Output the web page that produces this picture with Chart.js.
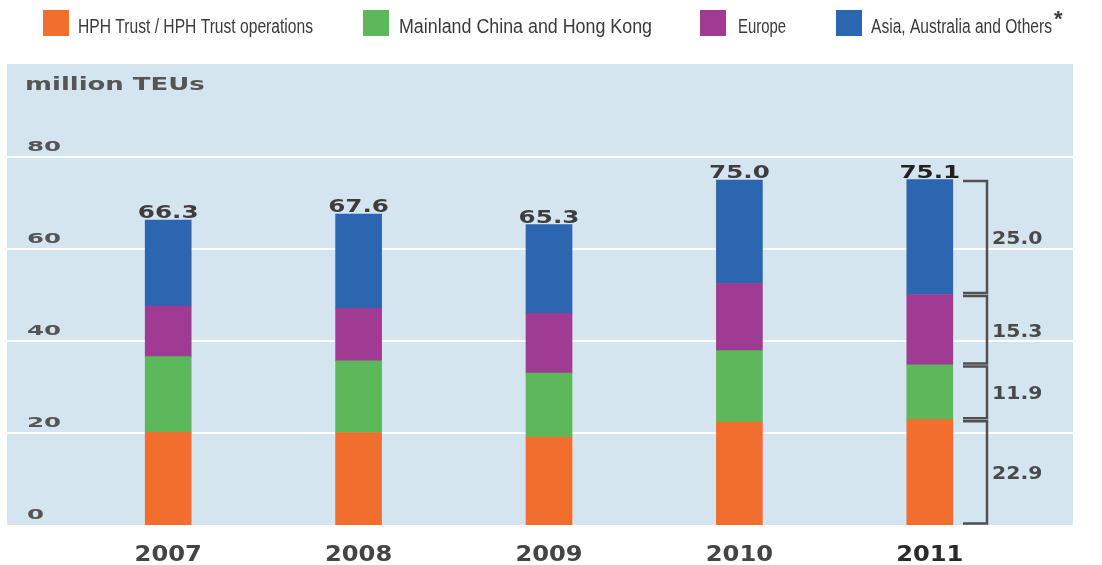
<!DOCTYPE html>
<html>
<head>
<meta charset="utf-8">
<script src="https://cdn.jsdelivr.net/npm/chart.js@4"></script>
<style>
  html, body { margin: 0; padding: 0; background: #fff; }
  canvas { display: block; }
</style>
</head>
<body>
<canvas id="teuChart" width="1102" height="565"></canvas>
<script>
const years = ['2007', '2008', '2009', '2010', '2011'];
const seriesNames = ['HPH Trust / HPH Trust operations', 'Mainland China and Hong Kong', 'Europe', 'Asia, Australia and Others'];
const hphTrust = [20.2, 20.1, 19.1, 22.4, 22.9];
const mainland = [16.4, 15.6, 13.9, 15.5, 11.9];
const europe = [11.0, 11.4, 13.0, 14.6, 15.3];
const asiaOthers = [18.7, 20.5, 19.3, 22.5, 25.0];
const yTicks = [0, 20, 40, 60, 80];
const unitLabel = 'million TEUs';

const seriesColors = ['#f26e2f', '#5cb85a', '#9f3b93', '#2c65b0'];
const seriesValues = [hphTrust, mainland, europe, asiaOthers];

// text helper: draws with an optional horizontal stretch,
// or squeezes/stretches to a given width when o.width is set
function drawText(ctx, text, x, y, o) {
  ctx.save();
  ctx.font = o.font;
  ctx.fillStyle = o.color || '#444';
  ctx.textAlign = o.align || 'left';
  ctx.textBaseline = o.baseline || 'alphabetic';
  let sx = o.sx || 1;
  if (o.width) sx = o.width / ctx.measureText(text).width;
  ctx.translate(x, y);
  ctx.scale(sx, 1);
  ctx.fillText(text, 0, 0);
  ctx.restore();
}

const PANEL = { left: 7, top: 64, right: 1073, bottom: 525 };

const panelPlugin = {
  id: 'panel',
  beforeDraw(chart) {
    const ctx = chart.ctx;
    const y = chart.scales.y;
    ctx.save();
    ctx.fillStyle = '#fff';
    ctx.fillRect(0, 0, chart.width, chart.height);
    ctx.fillStyle = '#d5e5ef';
    ctx.fillRect(PANEL.left, PANEL.top, PANEL.right - PANEL.left, PANEL.bottom - PANEL.top);
    // white gridlines across the whole panel
    ctx.fillStyle = '#fff';
    yTicks.forEach(t => {
      if (t === 0) return;
      const py = y.getPixelForValue(t);
      ctx.fillRect(PANEL.left, py - 1, PANEL.right - PANEL.left, 2);
    });
    ctx.restore();

    yTicks.forEach(t => {
      const py = y.getPixelForValue(t);
      drawText(ctx, String(t), 27, py - 6, { font: 'bold 14px "DejaVu Sans"', color: '#555', sx: 1.75 });
    });
    drawText(ctx, unitLabel, 25, 90, { font: 'bold 18px "DejaVu Sans"', color: '#555', sx: 1.44 });
  }
};

const labelPlugin = {
  id: 'labels',
  afterDatasetsDraw(chart) {
    const ctx = chart.ctx;
    const x = chart.scales.x;
    const y = chart.scales.y;
    const last = years.length - 1;

    // totals above bars and years below
    years.forEach((yr, i) => {
      const total = seriesValues.reduce((s, arr) => s + arr[i], 0);
      const cx = x.getPixelForValue(i);
      const top = y.getPixelForValue(total);
      drawText(ctx, total.toFixed(1), cx, top - 2, {
        font: 'bold 17px "DejaVu Sans"', color: i === last ? '#222' : '#3d3d3d', align: 'center', sx: 1.45
      });
      drawText(ctx, yr, cx, 561, {
        font: 'bold 21px "DejaVu Sans"', color: i === last ? '#2a2a2a' : '#444', align: 'center', sx: 1.15
      });
    });

    // brackets for the breakdown of the latest year
    let base = 0;
    ctx.save();
    ctx.strokeStyle = '#505050';
    ctx.lineWidth = 2.5;
    seriesValues.forEach(arr => {
      const v = arr[last];
      const yb = y.getPixelForValue(base);
      const yt = y.getPixelForValue(base + v);
      ctx.beginPath();
      ctx.moveTo(963, yt + 1.5);
      ctx.lineTo(987, yt + 1.5);
      ctx.lineTo(987, yb - 1.5);
      ctx.lineTo(963, yb - 1.5);
      ctx.stroke();
      drawText(ctx, v.toFixed(1), 992, (yt + yb) / 2 + 7, { font: 'bold 17px "DejaVu Sans"', color: '#4a4a4a', sx: 1.2 });
      base += v;
    });
    ctx.restore();
  },
  afterDraw(chart) {
    const ctx = chart.ctx;
    const boxX = [43, 363, 700, 836];
    const textX = [78, 399, 738, 871];
    const textW = [235, 253, 48, 181];
    seriesNames.forEach((name, i) => {
      ctx.fillStyle = seriesColors[i];
      ctx.fillRect(boxX[i], 10, 26, 26);
      drawText(ctx, name, textX[i], 33, { font: '20px "Liberation Sans"', color: '#3a3a3a', width: textW[i] });
    });
    drawText(ctx, '*', 1054, 26, { font: 'bold 22px "Liberation Sans"', color: '#3a3a3a' });
  }
};

new Chart(document.getElementById('teuChart'), {
  type: 'bar',
  data: {
    labels: years,
    datasets: seriesValues.map((vals, i) => ({
      label: seriesNames[i],
      data: vals,
      backgroundColor: seriesColors[i],
      borderWidth: 0,
      barThickness: 46
    }))
  },
  options: {
    responsive: false,
    animation: false,
    devicePixelRatio: 1,
    layout: { padding: { left: 73, right: 77, top: 157, bottom: 40 } },
    plugins: { legend: { display: false }, tooltip: { enabled: false } },
    scales: {
      x: { stacked: true, display: false },
      y: { stacked: true, display: false, min: 0, max: 80 }
    }
  },
  plugins: [panelPlugin, labelPlugin]
});
</script>
</body>
</html>
